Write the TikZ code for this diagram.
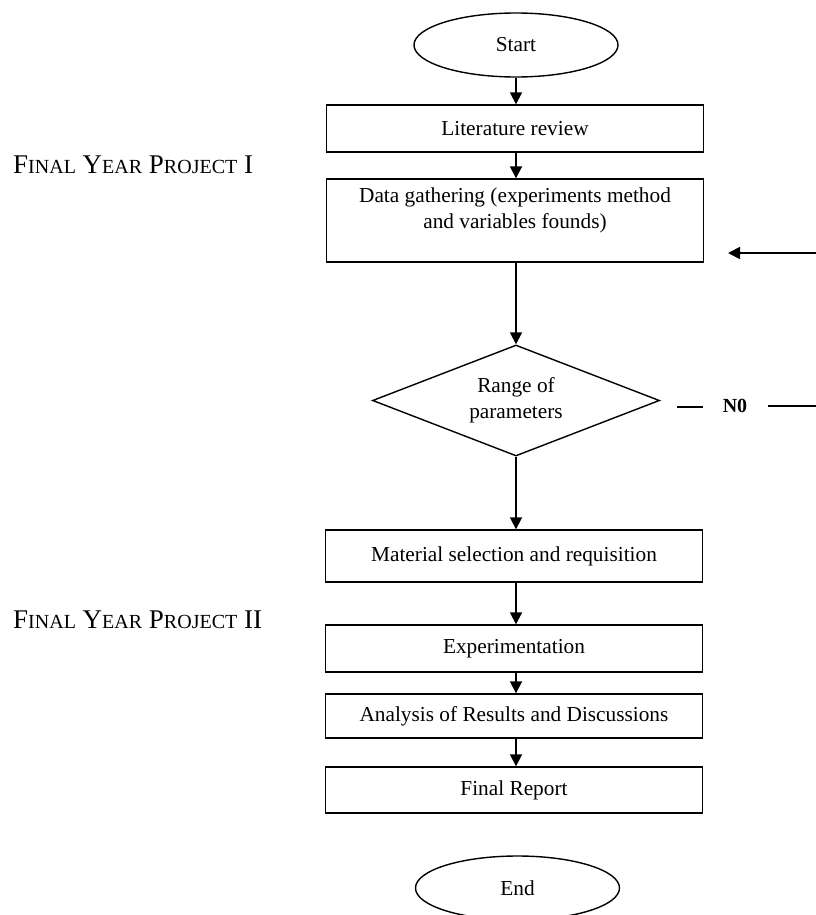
\documentclass[tikz,border=0pt]{standalone}
\usepackage{fontspec}
\setmainfont{Liberation Serif}
\usetikzlibrary{shapes.geometric,arrows.meta}
\newcommand\scBig[1]{{\fontsize{27}{27}\selectfont #1}}
\newcommand\scSmall[1]{{\fontsize{20}{20}\selectfont #1}}
\tikzset{
  box/.style={draw, line width=1.4pt, minimum width=377pt, inner sep=0pt},
  term/.style={draw, ellipse, line width=1.4pt, minimum width=204pt, minimum height=64pt, inner sep=0pt},
  dec/.style={draw, diamond, line width=1.4pt, aspect=2.59, minimum width=287pt, minimum height=111pt, inner sep=0pt, align=center},
  txt/.style={font=\fontsize{21.3}{26}\selectfont},
  flow/.style={line width=1.8pt, -{Triangle[length=12pt,width=12pt]}},
  plain/.style={line width=1.4pt},
  phase/.style={anchor=base west, inner sep=0pt, font=\fontsize{27}{27}\selectfont}
}
\begin{document}
\begin{tikzpicture}[x=1pt,y=-1pt]
\useasboundingbox (0,0) rectangle (816,915);
% terminals
\node[term, txt] (start) at (516,45) {Start};
\node[term, txt] (end) at (517.5,888) {End};
% boxes
\node[box, minimum height=47pt, txt] (lit) at (515,128.5) {Literature review};
\node[box, minimum height=83pt] (data) at (515,220.5) {};
\node[txt, align=center] (datatxt) at (515,210) {Data gathering (experiments method\\and variables founds)};
\node[dec, txt] (range) at (516,400.5) {Range of\\parameters};
\node[box, minimum height=52pt, txt] (mat) at (514,556) {Material selection and requisition};
\node[box, minimum height=47pt, txt] (exp) at (514,648.5) {Experimentation};
\node[box, minimum height=44pt, txt] (ana) at (514,716) {Analysis of Results and Discussions};
\node[box, minimum height=46pt, txt] (fin) at (514,790) {Final Report};
% phase labels
\node[phase] (fyp1) at (13,173) {\scBig{F}\scSmall{INAL} \scBig{Y}\scSmall{EAR} \scBig{P}\scSmall{ROJECT} \scBig{I}};
\node[phase] (fyp2) at (13,628) {\scBig{F}\scSmall{INAL} \scBig{Y}\scSmall{EAR} \scBig{P}\scSmall{ROJECT} \scBig{II}};
% flow arrows
\draw[flow] (start.south -| 516,0) -- (lit.north -| 516,0);
\draw[flow] (lit.south -| 516,0) -- (data.north -| 516,0);
\draw[flow] (data.south -| 516,0) -- (range.north);
\draw[flow] (range.south) -- (mat.north -| range.south);
\draw[flow] (mat.south -| 516,0) -- (exp.north -| 516,0);
\draw[flow] (exp.south -| 516,0) -- (ana.north -| 516,0);
\draw[flow] (ana.south -| 516,0) -- (fin.north -| 516,0);
% NO branch
\node[font=\fontsize{20}{20}\selectfont\bfseries, inner sep=0pt] (no) at (735,406) {N0};
\coordinate (no1) at (677,407);
\coordinate (no2) at (703,407);
\coordinate (no3) at (768,406);
\coordinate (no4) at (816,406);
\draw[plain] (no1) -- (no2);
\draw[plain] (no3) -- (no4);
% return arrow
\coordinate (ret) at (816,253);
\coordinate (rettip) at (728,253);
\draw[flow] (ret) -- (rettip);
\end{tikzpicture}
\end{document}
